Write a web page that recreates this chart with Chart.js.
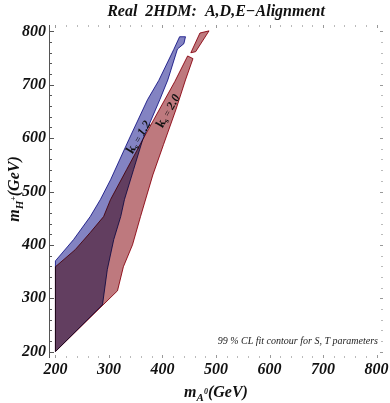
<!DOCTYPE html>
<html>
<head>
<meta charset="utf-8">
<script src="https://cdn.jsdelivr.net/npm/chart.js@4.4.1/dist/chart.umd.min.js"></script>
<style>
  html, body { margin: 0; padding: 0; background: #fff; }
  #wrap { width: 390px; height: 403px; }
</style>
</head>
<body>
<div id="wrap"><canvas id="c"></canvas></div>
<script>
var xTicks = [200, 300, 400, 500, 600, 700, 800];
var yTicks = [200, 300, 400, 500, 600, 700, 800];

// k_s = 1.2 contour (blue)
var blueX = [200, 200, 234, 265, 284, 303, 337, 372, 393, 421, 432, 443, 440, 428, 410, 395, 363, 346, 329, 322, 309, 297, 288, 200];
var blueY = [200, 370, 410, 453, 485, 522, 597, 672, 708, 766, 790, 790, 777, 767, 709, 672, 597, 541, 485, 453, 410, 354, 288, 200];

// k_s = 2.0 contour (red): main piece + small piece at the top
var redX = [200, 200, 237, 265, 290, 303, 333, 363, 423, 447, 457, 443, 425, 402, 382, 359, 344, 327, 316, 200];
var redY = [200, 359, 391, 423, 453, 485, 541, 597, 706, 754, 749, 709, 653, 588, 531, 453, 400, 359, 314, 200];
var redTopX = [453, 470, 487, 462, 453];
var redTopY = [760, 797, 801, 762, 760];

function pts(xs, ys) {
  return xs.map(function (x, i) { return { x: x, y: ys[i] }; });
}

var serifBI = function (s) { return 'italic bold ' + s + 'px "Liberation Serif", "DejaVu Serif", serif'; };

function drawRich(ctx, parts, x, y, align) {
  var w = 0;
  parts.forEach(function (p) { ctx.font = p.f; p.w = ctx.measureText(p.t).width; w += p.w; });
  var cx = align === 'center' ? x - w / 2 : (align === 'right' ? x - w : x);
  parts.forEach(function (p) {
    ctx.font = p.f;
    ctx.fillText(p.t, cx, y + (p.dy || 0));
    cx += p.w;
  });
}

var blendPlugin = {
  id: 'blend',
  beforeDraw: function (chart) {
    var ctx = chart.ctx;
    ctx.save();
    ctx.fillStyle = '#fff';
    ctx.fillRect(0, 0, chart.width, chart.height);
    ctx.restore();
  },
  beforeDatasetsDraw: function (chart) {
    chart.ctx.save();
    chart.ctx.globalCompositeOperation = 'multiply';
  },
  afterDatasetsDraw: function (chart) {
    chart.ctx.restore();
  }
};

var framePlugin = {
  id: 'frame',
  afterDraw: function (chart) {
    var ctx = chart.ctx, a = chart.chartArea;
    var xs = chart.scales.x, ys = chart.scales.y;
    ctx.save();

    // left axis line + ticks
    ctx.strokeStyle = '#555';
    ctx.lineWidth = 1;
    ctx.beginPath();
    ctx.moveTo(a.left + 0.5, a.top);
    ctx.lineTo(a.left + 0.5, a.bottom);
    ctx.stroke();
    for (var v = 200; v <= 800; v += 20) {
      var major = v % 100 === 0;
      var py = Math.round(ys.getPixelForValue(v)) + 0.5;
      ctx.strokeStyle = '#555';
      ctx.beginPath();
      ctx.moveTo(a.left, py);
      ctx.lineTo(a.left + (major ? 5 : 3), py);
      ctx.stroke();
      // right frame dots
      ctx.strokeStyle = major ? '#999' : '#bbb';
      ctx.beginPath();
      ctx.moveTo(a.right - (major ? 3 : 2), py);
      ctx.lineTo(a.right, py);
      ctx.stroke();
      // top / bottom frame dots
      var px = Math.round(xs.getPixelForValue(v)) + 0.5;
      ctx.beginPath();
      ctx.moveTo(px, a.top);
      ctx.lineTo(px, a.top + (major ? 3 : 2));
      ctx.moveTo(px, a.bottom - (major ? 3 : 2));
      ctx.lineTo(px, a.bottom);
      ctx.stroke();
    }

    ctx.fillStyle = '#111';
    ctx.textBaseline = 'alphabetic';

    // title
    drawRich(ctx, [{ t: 'Real  2HDM:  A,D,E\u2212Alignment', f: serifBI(16) }], (a.left + a.right) / 2, 16, 'center');

    // x axis title
    drawRich(ctx, [
      { t: 'm', f: serifBI(16) },
      { t: 'A', f: serifBI(11), dy: 4 },
      { t: '0', f: serifBI(8), dy: -3 },
      { t: '(GeV)', f: serifBI(16) }
    ], (a.left + a.right) / 2, 397, 'center');

    // y axis title
    ctx.save();
    ctx.translate(19, 189);
    ctx.rotate(-Math.PI / 2);
    drawRich(ctx, [
      { t: 'm', f: serifBI(16) },
      { t: 'H', f: serifBI(11), dy: 4 },
      { t: '+', f: serifBI(8), dy: -3 },
      { t: '(GeV)', f: serifBI(16) }
    ], 0, 0, 'center');
    ctx.restore();

    // contour labels
    var labels = [
      { x: 355, y: 602, ang: -59, val: '1.2' },
      { x: 410, y: 651, ang: -61, val: '2.0' }
    ];
    labels.forEach(function (l) {
      ctx.save();
      ctx.translate(xs.getPixelForValue(l.x), ys.getPixelForValue(l.y));
      ctx.rotate(l.ang * Math.PI / 180);
      drawRich(ctx, [
        { t: 'k', f: 'bold 13px "Liberation Serif", serif' },
        { t: 's', f: 'bold 8px "Liberation Serif", serif', dy: 2 },
        { t: ' = ', f: '10px "Liberation Serif", serif' },
        { t: l.val, f: 'bold italic 12px "Liberation Serif", serif' }
      ], 0, 4, 'center');
      ctx.restore();
    });

    // note
    ctx.font = 'italic 10px "Liberation Serif", serif';
    ctx.textAlign = 'right';
    ctx.fillStyle = '#222';
    ctx.fillText('99 % CL fit contour for S, T parameters', 378, 344);
    ctx.restore();
  }
};

var common = { pointRadius: 0, borderWidth: 1, tension: 0, fill: 'shape' };
var tickFont = { family: '"Liberation Serif", serif', style: 'italic', weight: 'bold', size: 16 };

new Chart(document.getElementById('c'), {
  type: 'line',
  data: {
    datasets: [
      Object.assign({ label: 'k_s = 1.2', data: pts(blueX, blueY), backgroundColor: 'rgb(131,131,194)', borderColor: 'rgb(55,55,165)' }, common),
      Object.assign({ label: 'k_s = 2.0', data: pts(redX, redY), backgroundColor: 'rgb(190,121,126)', borderColor: 'rgb(170,30,45)' }, common),
      Object.assign({ label: 'k_s = 2.0 top', data: pts(redTopX, redTopY), backgroundColor: 'rgb(190,121,126)', borderColor: 'rgb(170,30,45)' }, common)
    ]
  },
  options: {
    responsive: true,
    maintainAspectRatio: false,
    animation: false,
    events: [],
    layout: { padding: { left: 0, right: 7, top: 25, bottom: 0 } },
    plugins: { legend: { display: false }, title: { display: false }, tooltip: { enabled: false } },
    scales: {
      x: {
        type: 'linear',
        min: 188, max: 812,
        grid: { display: false, drawTicks: false },
        border: { display: false },
        afterBuildTicks: function (s) { s.ticks = xTicks.map(function (v) { return { value: v }; }); },
        afterFit: function (s) { s.height = 45; s.paddingLeft = 0; s.paddingRight = 0; },
        ticks: { color: '#111', padding: 2, maxRotation: 0, autoSkip: false, font: tickFont }
      },
      y: {
        type: 'linear',
        min: 188, max: 812,
        grid: { display: false, drawTicks: false },
        border: { display: false },
        afterBuildTicks: function (s) { s.ticks = yTicks.map(function (v) { return { value: v }; }); },
        afterFit: function (s) { s.width = 49; s.paddingTop = 0; s.paddingBottom = 0; },
        ticks: { color: '#111', padding: 3, autoSkip: false, font: tickFont }
      }
    }
  },
  plugins: [blendPlugin, framePlugin]
});
</script>
</body>
</html>
